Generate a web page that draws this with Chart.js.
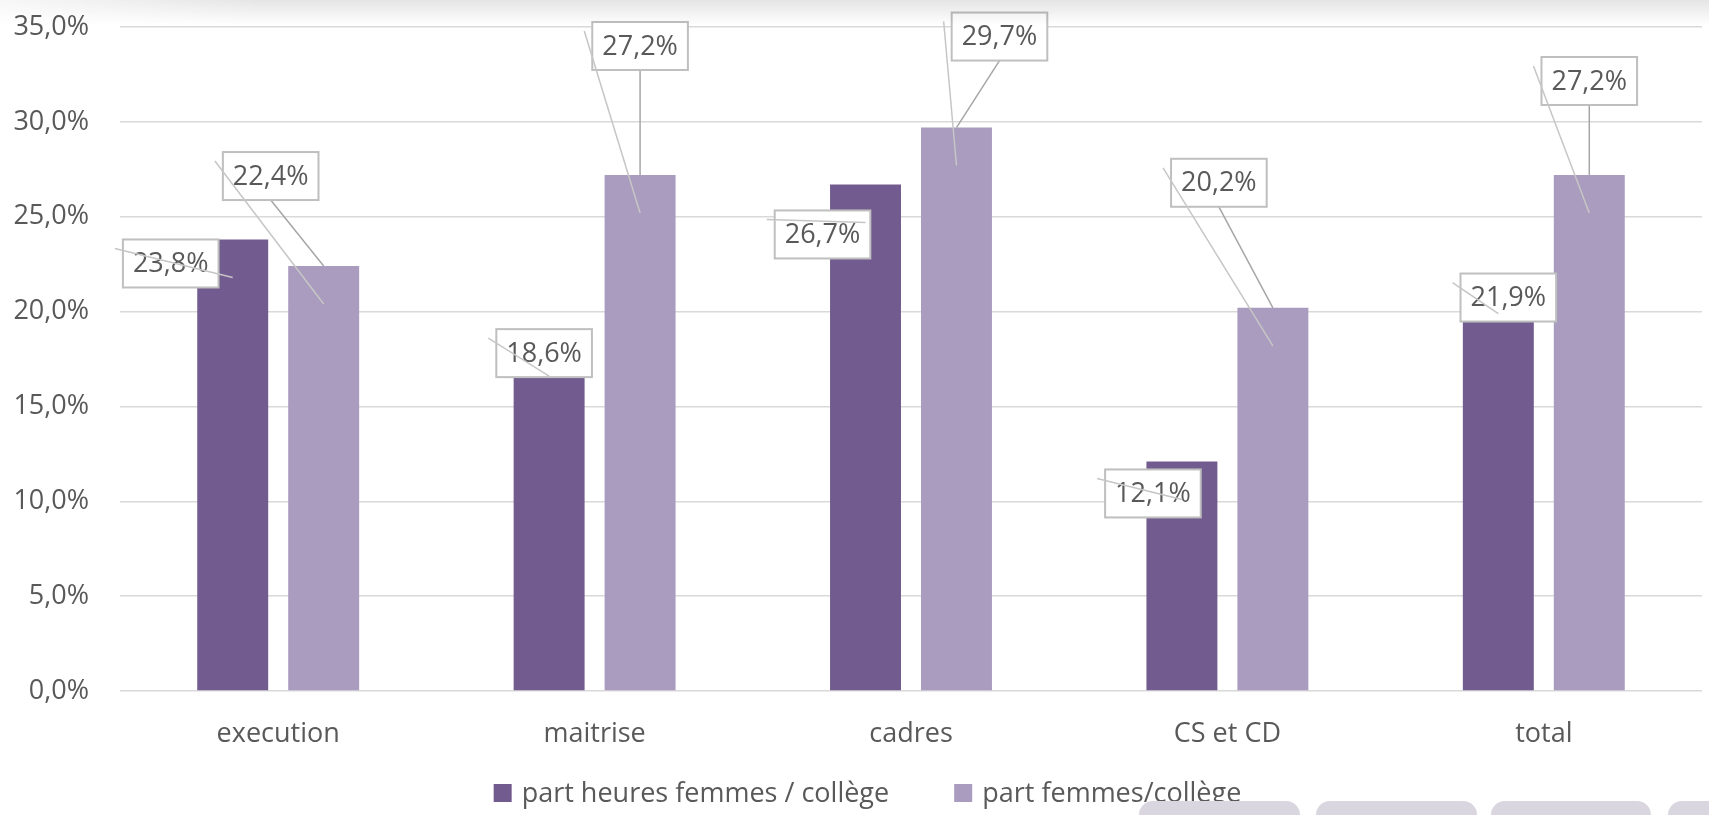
<!DOCTYPE html>
<html lang="fr">
<head>
<meta charset="utf-8">
<title>Part des femmes par collège</title>
<script src="https://cdn.jsdelivr.net/npm/chart.js@4.4.1/dist/chart.umd.min.js"></script>
<style>
  html, body { margin: 0; padding: 0; background: #fff; }
  #wrap { position: relative; width: 1709px; height: 815px; overflow: hidden; }
  #shade {
    position: absolute; left: 0; top: 0; width: 100%; height: 26px; pointer-events: none;
    background: linear-gradient(to bottom, rgba(0,0,0,0.10), rgba(0,0,0,0));
    -webkit-mask-image: linear-gradient(to right, rgba(0,0,0,0.3) 0, #000 260px);
    mask-image: linear-gradient(to right, rgba(0,0,0,0.3) 0, #000 260px);
  }
  .tab { position: absolute; top: 801px; height: 30px; background: #d9d6e0; border-radius: 14px 14px 0 0; }
</style>
</head>
<body>
<div id="wrap">
  <canvas id="collegeChart" width="1709" height="815"></canvas>
  <div id="shade"></div>
  <div class="tab" style="left:1139px;width:161px"></div>
  <div class="tab" style="left:1316px;width:161px"></div>
  <div class="tab" style="left:1491px;width:160px"></div>
  <div class="tab" style="left:1668px;width:60px"></div>
</div>
<script>
const categories = ['execution', 'maitrise', 'cadres', 'CS et CD', 'total'];
const partHeuresFemmes = [23.8, 18.6, 26.7, 12.1, 21.9];
const partFemmes = [22.4, 27.2, 29.7, 20.2, 27.2];
const yTicks = [0, 5, 10, 15, 20, 25, 30, 35];

// where each label box sits, relative to the top of its bar (dx, dy)
const heuresLabelOffsets = [[-62, 24], [-5, 15], [-43, 50], [-29, 32], [10, 22]];
const femmesLabelOffsets = [[-53, -90], [0, -129], [43, -91], [-54, -125], [0, -94]];

const TEXT_COLOR = '#595959';
const FONT = '"Open Sans", sans-serif';

function pct(v) {
    return v.toFixed(1).replace('.', ',') + '%';
}

// boxed data labels with leader lines
const calloutLabels = {
    id: 'calloutLabels',
    afterDatasetsDraw(chart) {
        const ctx = chart.ctx;
        ctx.save();
        ctx.font = '27px ' + FONT;
        ctx.textAlign = 'center';
        ctx.textBaseline = 'middle';
        chart.data.datasets.forEach((ds, i) => {
            const meta = chart.getDatasetMeta(i);
            meta.data.forEach((bar, j) => {
                const text = pct(ds.data[j]);
                const w = ctx.measureText(text).width + 20;
                const h = 48;
                const cx = bar.x + ds.labelOffsets[j][0];
                const cy = bar.y + ds.labelOffsets[j][1];
                const left = cx - w / 2;
                const top = cy - h / 2;

                if (top + h < bar.y - 4) {
                    ctx.strokeStyle = '#a6a6a6';
                    ctx.lineWidth = 1.5;
                    ctx.beginPath();
                    ctx.moveTo(cx, top + h);
                    ctx.lineTo(bar.x, bar.y);
                    ctx.stroke();
                }

                ctx.fillStyle = '#ffffff';
                ctx.fillRect(left, top, w, h);
                ctx.strokeStyle = '#bfbfbf';
                ctx.lineWidth = 2;
                ctx.strokeRect(left, top, w, h);
                ctx.fillStyle = TEXT_COLOR;
                ctx.fillText(text, cx, cy + 1);

                // faint line left over from the label's default spot
                ctx.strokeStyle = '#c6c6c6';
                ctx.lineWidth = 1.5;
                ctx.beginPath();
                ctx.moveTo(left - 8, top + 9);
                ctx.lineTo(bar.x, bar.y + 38);
                ctx.stroke();
            });
        });
        ctx.restore();
    }
};

// legend drawn by hand so the item spacing matches
const bottomLegend = {
    id: 'bottomLegend',
    afterDraw(chart) {
        const ctx = chart.ctx;
        ctx.save();
        ctx.font = '27px ' + FONT;
        ctx.textBaseline = 'middle';
        const box = 18, gapText = 10, gapItem = 65;
        const items = chart.data.datasets.map(ds => ({
            text: ds.label,
            color: ds.backgroundColor,
            w: ctx.measureText(ds.label).width
        }));
        const total = items.reduce((s, it) => s + box + gapText + it.w, 0) + gapItem * (items.length - 1);
        let x = chart.width / 2 + 13 - total / 2;
        const y = 793;
        items.forEach(it => {
            ctx.fillStyle = it.color;
            ctx.fillRect(x, y - box / 2, box, box);
            ctx.fillStyle = TEXT_COLOR;
            ctx.fillText(it.text, x + box + gapText, y + 1);
            x += box + gapText + it.w + gapItem;
        });
        ctx.restore();
    }
};

function drawChart() {
    const ctx = document.getElementById('collegeChart').getContext('2d');
    new Chart(ctx, {
        type: 'bar',
        data: {
            labels: categories,
            datasets: [
                {
                    label: 'part heures femmes / collège',
                    data: partHeuresFemmes,
                    backgroundColor: '#725b8f',
                    labelOffsets: heuresLabelOffsets,
                    barPercentage: 0.78,
                    categoryPercentage: 0.575
                },
                {
                    label: 'part femmes/collège',
                    data: partFemmes,
                    backgroundColor: '#aa9cbe',
                    labelOffsets: femmesLabelOffsets,
                    barPercentage: 0.78,
                    categoryPercentage: 0.575
                }
            ]
        },
        options: {
            responsive: false,
            animation: false,
            layout: { padding: { left: 12, right: 7, top: 27, bottom: 66 } },
            plugins: {
                legend: { display: false },
                tooltip: { enabled: false }
            },
            scales: {
                x: {
                    grid: { display: false },
                    border: { display: false },
                    ticks: { color: TEXT_COLOR, font: { family: FONT, size: 27 }, padding: 19, maxRotation: 0 },
                    afterFit: scale => { scale.height = 58; }
                },
                y: {
                    min: 0,
                    max: 35,
                    afterBuildTicks: scale => { scale.ticks = yTicks.map(v => ({ value: v })); },
                    afterFit: scale => {
                        scale.width = 108;
                        scale.paddingTop = 0;
                        scale.paddingBottom = 0;
                    },
                    grid: { color: '#d9d9d9', lineWidth: 1.5, drawTicks: false },
                    border: { display: false },
                    ticks: {
                        color: TEXT_COLOR,
                        font: { family: FONT, size: 27 },
                        padding: 31,
                        callback: v => pct(v)
                    }
                }
            }
        },
        plugins: [calloutLabels, bottomLegend]
    });
}

document.fonts.load('27px "Open Sans"').then(drawChart, drawChart);
</script>
</body>
</html>
